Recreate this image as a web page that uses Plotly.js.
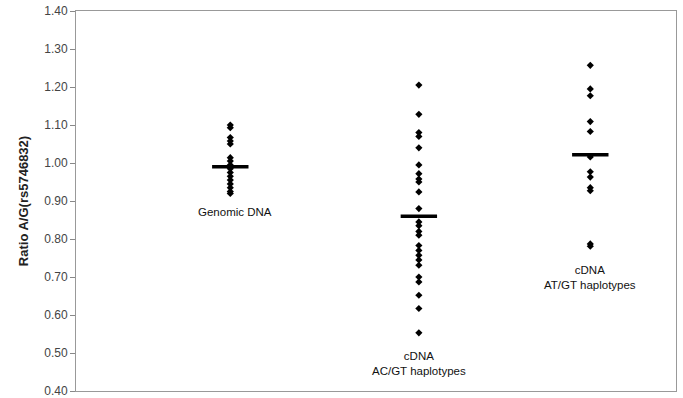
<!DOCTYPE html>
<html>
<head>
<meta charset="utf-8">
<script src="https://cdn.plot.ly/plotly-3.0.1.min.js"></script>
<style>html,body{margin:0;padding:0;background:#fff;}#chart{width:683px;height:398px;}</style>
</head>
<body>
<div id="chart"></div>
<script>
// Group positions on the numeric x axis
var groupX = [0.9, 2.0, 3.0];
var groupLabels = ["Genomic DNA", "cDNA<br>AC/GT haplotypes", "cDNA<br>AT/GT haplotypes"];
var labelY = [0.87, 0.472, 0.70];

// Individual ratios
var genomicDNA = [1.10, 1.093, 1.067, 1.058, 1.05, 1.014, 1.005, 0.995, 0.985, 0.975, 0.965, 0.955, 0.945, 0.935, 0.925, 0.92];
var cdnaACGT = [1.205, 1.128, 1.08, 1.07, 1.04, 0.995, 0.972, 0.958, 0.95, 0.924, 0.88, 0.845, 0.835, 0.82, 0.81, 0.783, 0.77, 0.757, 0.745, 0.731, 0.70, 0.687, 0.652, 0.617, 0.553];
var cdnaATGT = [1.257, 1.195, 1.177, 1.109, 1.083, 1.016, 0.977, 0.963, 0.935, 0.927, 0.787, 0.781];

// Group means (horizontal bars)
var means = [0.99, 0.86, 1.022];

var series = [genomicDNA, cdnaACGT, cdnaATGT];
var traces = [];
series.forEach(function (vals, i) {
  traces.push({
    type: 'scatter', mode: 'markers',
    x: vals.map(function () { return groupX[i]; }),
    y: vals,
    marker: {symbol: 'diamond', size: 5.5, color: '#000'},
    hoverinfo: 'y', showlegend: false
  });
});
traces.push({
  type: 'scatter', mode: 'markers',
  x: groupX, y: means,
  marker: {symbol: 'line-ew', size: 26, line: {width: 3.5, color: '#000'}},
  showlegend: false
});

var annotations = groupLabels.map(function (t, i) {
  return {x: groupX[i] + (i === 0 ? 0.03 : 0), y: labelY[i], xref: 'x', yref: 'y', text: t,
    showarrow: false, font: {family: 'Liberation Sans, Arial, sans-serif', size: 11.5, color: '#111'}};
});

var yTicks = [0.40, 0.50, 0.60, 0.70, 0.80, 0.90, 1.00, 1.10, 1.20, 1.30, 1.40];

var layout = {
  width: 683, height: 398,
  margin: {l: 76, r: 7, t: 11, b: 7},
  paper_bgcolor: '#fff', plot_bgcolor: '#fff',
  font: {family: 'Liberation Sans, Arial, sans-serif', color: '#333'},
  xaxis: {range: [0, 3.5], showgrid: false, zeroline: false, showticklabels: false,
    ticks: '', showline: true, mirror: true, linecolor: '#999', linewidth: 1},
  yaxis: {range: [0.40, 1.40], tickvals: yTicks, ticktext: yTicks.map(function (v) { return v.toFixed(2); }),
    showgrid: false, zeroline: false, ticks: 'outside', ticklen: 5, tickcolor: '#888',
    showline: true, mirror: true, linecolor: '#999', linewidth: 1,
    ticklabeloverflow: 'allow', automargin: false,
    tickfont: {size: 12, color: '#444'},
    title: {text: '<b>Ratio A/G(rs5746832)</b>', font: {size: 13, color: '#222'}, standoff: 12}},
  annotations: annotations
};

Plotly.newPlot('chart', traces, layout, {displayModeBar: false, staticPlot: true});
</script>
</body>
</html>
